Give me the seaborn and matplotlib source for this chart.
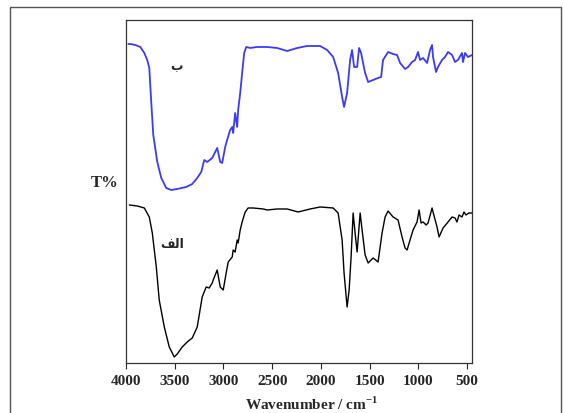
"""
Espectros FTIR de las dos muestras (الف y ب), recreados con seaborn.
"""

import numpy as np
import pandas as pd
import matplotlib
matplotlib.use("Agg")
import matplotlib.pyplot as plt
from matplotlib.patches import Rectangle
import seaborn as sns

# Datos (número de onda en cm-1, transmitancia relativa)
wn_b = [3976, 3956, 3905, 3853, 3812, 3782, 3761, 3741, 3720, 3679, 3638, 3587,
        3535, 3474, 3382, 3320, 3269, 3228, 3197, 3167, 3115, 3064, 3033, 3013,
        2982, 2962, 2931, 2910, 2900, 2880, 2859, 2849, 2828, 2808, 2787, 2766,
        2725, 2654, 2551, 2449, 2346, 2243, 2141, 2008, 1936, 1874, 1823, 1782,
        1762, 1731, 1700, 1680, 1659, 1628, 1608, 1587, 1567, 1546, 1515, 1464,
        1413, 1382, 1362, 1310, 1259, 1218, 1187, 1136, 1105, 1064, 1033, 1003,
        982, 951, 910, 880, 859, 849, 818, 798, 757, 726, 695, 654, 623, 593,
        552, 541, 521, 490, 449]
t_b = [319, 319, 318, 316, 310, 303, 295, 261, 228, 201, 185, 175,
       173, 174, 176, 179, 185, 191, 203, 201, 205, 215, 201, 200,
       216, 223, 233, 236, 230, 250, 236, 253, 270, 290, 310, 316,
       315, 316, 316, 315, 312, 315, 317, 317, 313, 306, 290, 266,
       256, 270, 303, 313, 296, 296, 315, 310, 300, 290, 281, 283,
       285, 286, 303, 311, 309, 308, 300, 294, 296, 301, 303, 311,
       303, 305, 300, 313, 318, 306, 291, 296, 303, 306, 311, 308, 301, 303,
       310, 301, 310, 306, 308]

wn_a = [3966, 3884, 3812, 3761, 3730, 3689, 3659, 3607, 3556, 3505, 3474, 3423,
        3372, 3320, 3269, 3218, 3177, 3146, 3115, 3105, 3064, 3033, 3002, 2972,
        2951, 2910, 2900, 2880, 2859, 2849, 2828, 2808, 2777, 2746, 2695, 2592,
        2551, 2449, 2346, 2233, 2110, 2008, 1874, 1823, 1782, 1762, 1731, 1710,
        1690, 1669, 1649, 1628, 1597, 1577, 1546, 1515, 1464, 1413, 1372, 1341,
        1310, 1259, 1208, 1167, 1136, 1115, 1085, 1054, 1013, 992, 972, 951,
        920, 900, 859, 849, 808, 787, 746, 695, 654, 623, 603, 582,
        552, 531, 511, 480, 449]
t_a = [158, 157, 155, 146, 130, 96, 63, 36, 16, 6, 9, 16,
       21, 25, 36, 66, 76, 75, 80, 83, 93, 76, 73, 90,
       101, 106, 113, 111, 123, 120, 133, 141, 151, 155, 155, 154,
       153, 154, 154, 151, 154, 156, 155, 150, 123, 90, 56, 73,
       106, 150, 130, 111, 150, 133, 108, 100, 105, 101, 130, 146,
       152, 146, 143, 126, 115, 113, 123, 133, 141, 153, 140, 141,
       138, 140, 155, 151, 136, 126, 135, 141, 146, 145, 141, 148,
       146, 151, 148, 150, 150]

ticks_x = [4000, 3500, 3000, 2500, 2000, 1500, 1000, 500]

# Etiquetas de las curvas (formas de presentación en orden visual: matplotlib no da forma al árabe)
etiqueta_a = "\ufed2\ufedf\u0627"   # الف
etiqueta_b = "\u0628"               # ب

sns.set_style("ticks")
plt.rcParams['font.family'] = ['Liberation Serif', 'DejaVu Serif']
plt.rcParams['mathtext.fontset'] = 'custom'
plt.rcParams['mathtext.bf'] = 'Liberation Serif:bold'
plt.rcParams['mathtext.rm'] = 'Liberation Serif'

df_a = pd.DataFrame({'wn': wn_a, 't': t_a})
df_b = pd.DataFrame({'wn': wn_b, 't': t_b})

fig = plt.figure(figsize=(5.64, 4.13), dpi=100)
ax = fig.add_axes([0.2234, 0.1211, 0.6135, 0.8305])

sns.lineplot(data=df_b, x='wn', y='t', ax=ax, color='#3a3aff', lw=1.3, estimator=None)
sns.lineplot(data=df_a, x='wn', y='t', ax=ax, color='black', lw=1.0, estimator=None)

ax.set_xlim(4000, 449)
ax.set_ylim(0, 343)
ax.set_xticks(ticks_x)
ax.set_xticklabels([str(t) for t in ticks_x], fontsize=11, fontweight='bold')
ax.set_yticks([])
ax.tick_params(axis='x', direction='out', length=4, width=0.8, pad=5)
ax.set_xlabel('')
ax.set_ylabel('')
for s in ax.spines.values():
    s.set_linewidth(0.9)
    s.set_color('#333333')

fig.text(0.553, 0.022, r'Wavenumber / cm$^{\mathbf{-1}}$', fontsize=11, fontweight='bold',
         ha='center', va='center')
fig.text(0.186, 0.557, 'T%', fontsize=12, fontweight='bold', ha='center', va='center')

ax.text(3480, 296, etiqueta_b, family=['DejaVu Sans'], fontsize=9, fontweight='bold',
        ha='center', va='center')
ax.text(3530, 118, etiqueta_a, family=['DejaVu Sans'], fontsize=9, fontweight='bold',
        ha='center', va='center')

# Marco exterior de la figura
fig.patches.append(Rectangle((10 / 564, -0.05), 551 / 564, 1 - 7 / 413 + 0.05,
                             transform=fig.transFigure, fill=False,
                             edgecolor='#555555', lw=1.0))

fig.savefig('out.png', dpi=100)
